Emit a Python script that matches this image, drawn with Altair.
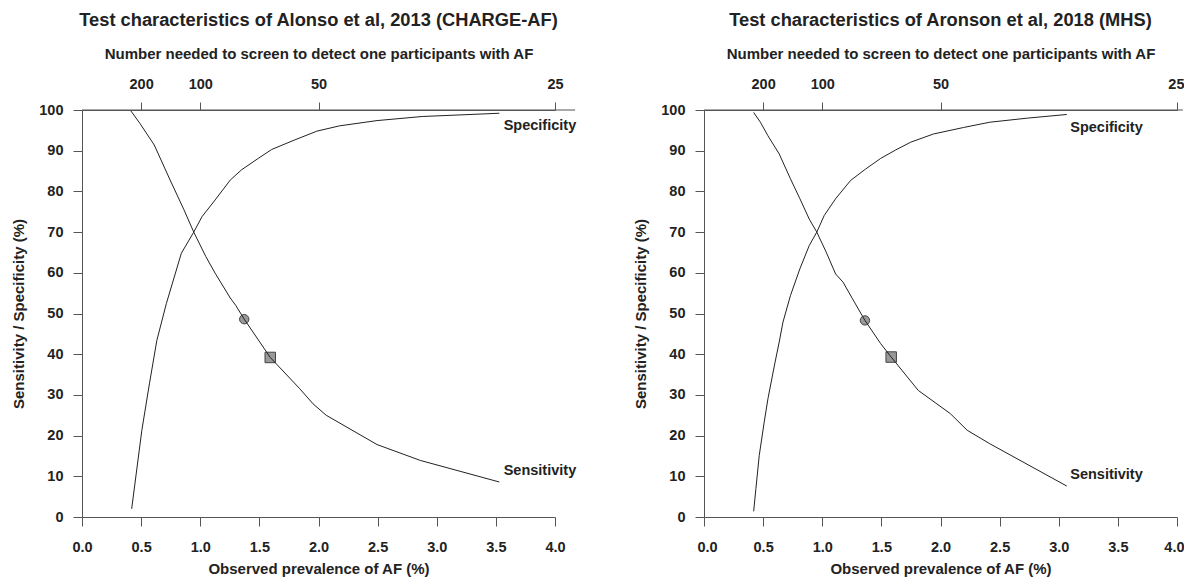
import altair as alt
import pandas as pd

FONT = "Liberation Sans"

# ---------------- data ----------------
# Left panel: Alonso et al, 2013 (CHARGE-AF)
l_sens_x = [0.414, 0.49, 0.611, 0.745, 0.862, 0.945, 1.047, 1.126, 1.254, 1.30, 1.372, 1.592, 1.842, 1.954, 2.065, 2.495, 2.861, 3.529]
l_sens_y = [99.75, 96.7, 91.4, 82.8, 75.5, 70.0, 64.0, 59.9, 53.8, 52.0, 48.6, 39.2, 31.5, 27.8, 25.0, 17.8, 13.9, 8.6]
l_spec_x = [0.42, 0.506, 0.57, 0.633, 0.713, 0.84, 0.945, 1.015, 1.126, 1.254, 1.349, 1.49, 1.604, 1.795, 1.986, 2.177, 2.495, 2.877, 3.529]
l_spec_y = [2.0, 21.3, 32.7, 43.4, 52.4, 64.8, 70.0, 73.8, 77.9, 82.8, 85.3, 88.1, 90.3, 92.6, 94.8, 96.1, 97.4, 98.4, 99.2]
l_circle = (1.372, 48.6)
l_square = (1.592, 39.2)
l_label_x = 3.566
l_label_y = {"Specificity": 96.1, "Sensitivity": 11.3}
l_top_line = (0.0, 4.17, 100)

# Right panel: Aronson et al, 2018 (MHS)
r_sens_x = [0.42, 0.477, 0.54, 0.636, 0.731, 0.811, 0.89, 0.954, 1.033, 1.113, 1.176, 1.256, 1.361, 1.494, 1.583, 1.812, 2.083, 2.226, 2.417, 3.068]
r_sens_y = [99.4, 97.0, 93.7, 89.2, 83.1, 78.2, 73.2, 70.0, 65.1, 59.7, 57.7, 53.6, 48.3, 42.6, 39.3, 31.1, 25.4, 21.3, 18.0, 7.6]
r_spec_x = [0.42, 0.439, 0.467, 0.509, 0.541, 0.598, 0.636, 0.668, 0.731, 0.811, 0.89, 0.954, 1.017, 1.113, 1.24, 1.367, 1.494, 1.622, 1.749, 1.94, 2.194, 2.417, 2.735, 3.068]
r_spec_y = [1.4, 7.0, 15.1, 23.3, 29.1, 37.6, 43.0, 47.9, 54.4, 61.0, 66.7, 70.0, 74.1, 78.2, 82.7, 85.5, 88.1, 90.2, 92.1, 94.1, 95.7, 97.0, 98.0, 98.9]
r_circle = (1.361, 48.3)
r_square = (1.583, 39.3)
r_label_x = 3.097
r_label_y = {"Specificity": 95.7, "Sensitivity": 10.4}
r_top_line = (0.0, 4.05, 100)   # runs off the picture's right edge

x_ticks = [0.0, 0.5, 1.0, 1.5, 2.0, 2.5, 3.0, 3.5, 4.0]
y_ticks = [0, 10, 20, 30, 40, 50, 60, 70, 80, 90, 100]
nns_ticks = [200, 100, 50, 25]

TITLE_L = "Test characteristics of Alonso et al, 2013 (CHARGE-AF)"
TITLE_R = "Test characteristics of Aronson et al, 2018 (MHS)"
X_TITLE = "Observed prevalence of AF (%)"
Y_TITLE = "Sensitivity / Specificity (%)"
TOP_TITLE = "Number needed to screen to detect one participants with AF"

W, H = 473, 407
AX = "#555555"
TXT = "#222222"

xscale = alt.Scale(domain=[0, 4], nice=False, zero=False)
yscale = alt.Scale(domain=[0, 100], nice=False, zero=False)

common_axis = dict(domainColor=AX, tickColor=AX, domainWidth=1, tickWidth=1,
                   labelColor=TXT, titleColor=TXT, labelFont=FONT, titleFont=FONT,
                   labelFontSize=14.5, labelFontWeight="bold", titleFontSize=15,
                   titleFontWeight="bold", grid=False, labelOverlap=False)

left_axis = alt.Axis(values=y_ticks, format="d", title=Y_TITLE, orient="left",
                     tickSize=9, labelPadding=10, titlePadding=12, labelFlush=False,
                     **common_axis)


def Y():
    return alt.Y("y:Q", scale=yscale, axis=left_axis)


def panel(title, sx, sy, px, py, circ, sq, lx, ly, top_line, flush):
    flush_opts = dict(labelFlush=True, labelFlushOffset=7) if flush else dict(labelFlush=False)
    bottom_axis = alt.Axis(values=x_ticks, format=".1f", title=X_TITLE, orient="bottom",
                           tickSize=9, labelPadding=14, titlePadding=8,
                           **flush_opts, **common_axis)
    top_axis = alt.Axis(values=[100 / n for n in nns_ticks], labelExpr="round(100 / datum.value)",
                        title=TOP_TITLE, orient="top", tickSize=8, labelPadding=11,
                        titlePadding=15, **flush_opts, **common_axis)

    def X(ax):
        return alt.X("x:Q", scale=xscale, axis=ax)

    sens = pd.DataFrame({"x": sx, "y": sy, "i": range(len(sx))})
    spec = pd.DataFrame({"x": px, "y": py, "i": range(len(px))})
    circle_df = pd.DataFrame({"x": [circ[0]], "y": [circ[1]]})
    square_df = pd.DataFrame({"x": [sq[0]], "y": [sq[1]]})
    labels = pd.DataFrame({"x": [lx, lx], "y": [ly["Specificity"], ly["Sensitivity"]],
                           "t": ["Specificity", "Sensitivity"]})
    rule_df = pd.DataFrame({"x": [top_line[0]], "x2": [top_line[1]], "y": [top_line[2]]})

    rule = alt.Chart(rule_df).mark_rule(color=AX, strokeWidth=1).encode(
        x=X(top_axis), x2="x2:Q", y=Y())

    markers_c = alt.Chart(circle_df).mark_point(shape="circle", filled=True, size=88,
                                                 fill="#999999", stroke="#444444",
                                                 strokeWidth=1, opacity=1).encode(x=X(None), y=Y())
    markers_s = alt.Chart(square_df).mark_point(shape="square", filled=True, size=110,
                                                 fill="#999999", stroke="#444444",
                                                 strokeWidth=1, opacity=1).encode(x=X(None), y=Y())

    sens_line = alt.Chart(sens).mark_line(color="#222222", strokeWidth=1).encode(
        x=X(bottom_axis), y=Y(), order="i:Q")
    spec_line = alt.Chart(spec).mark_line(color="#222222", strokeWidth=1).encode(
        x=X(None), y=Y(), order="i:Q")

    text = alt.Chart(labels).mark_text(align="left", baseline="middle", font=FONT,
                                       fontSize=14.5, fontWeight="bold", color=TXT).encode(
        x=X(None), y=Y(), text="t:N")

    return alt.layer(rule, markers_c, markers_s, sens_line, spec_line, text).resolve_axis(
        x="independent").properties(
        width=W, height=H,
        title=alt.TitleParams(title, font=FONT, fontSize=18.3, fontWeight="bold", color=TXT,
                              anchor="middle", offset=16))


left = panel(TITLE_L, l_sens_x, l_sens_y, l_spec_x, l_spec_y, l_circle, l_square,
             l_label_x, l_label_y, l_top_line, False)
right = panel(TITLE_R, r_sens_x, r_sens_y, r_spec_x, r_spec_y, r_circle, r_square,
              r_label_x, r_label_y, r_top_line, True)

chart = alt.hconcat(left, right, spacing=149, bounds="flush").configure_view(
    stroke=None).properties(padding={"left": 11, "top": 10, "right": 0, "bottom": 0})

chart.save("out.html", embed_options={"renderer": "svg", "actions": False})
